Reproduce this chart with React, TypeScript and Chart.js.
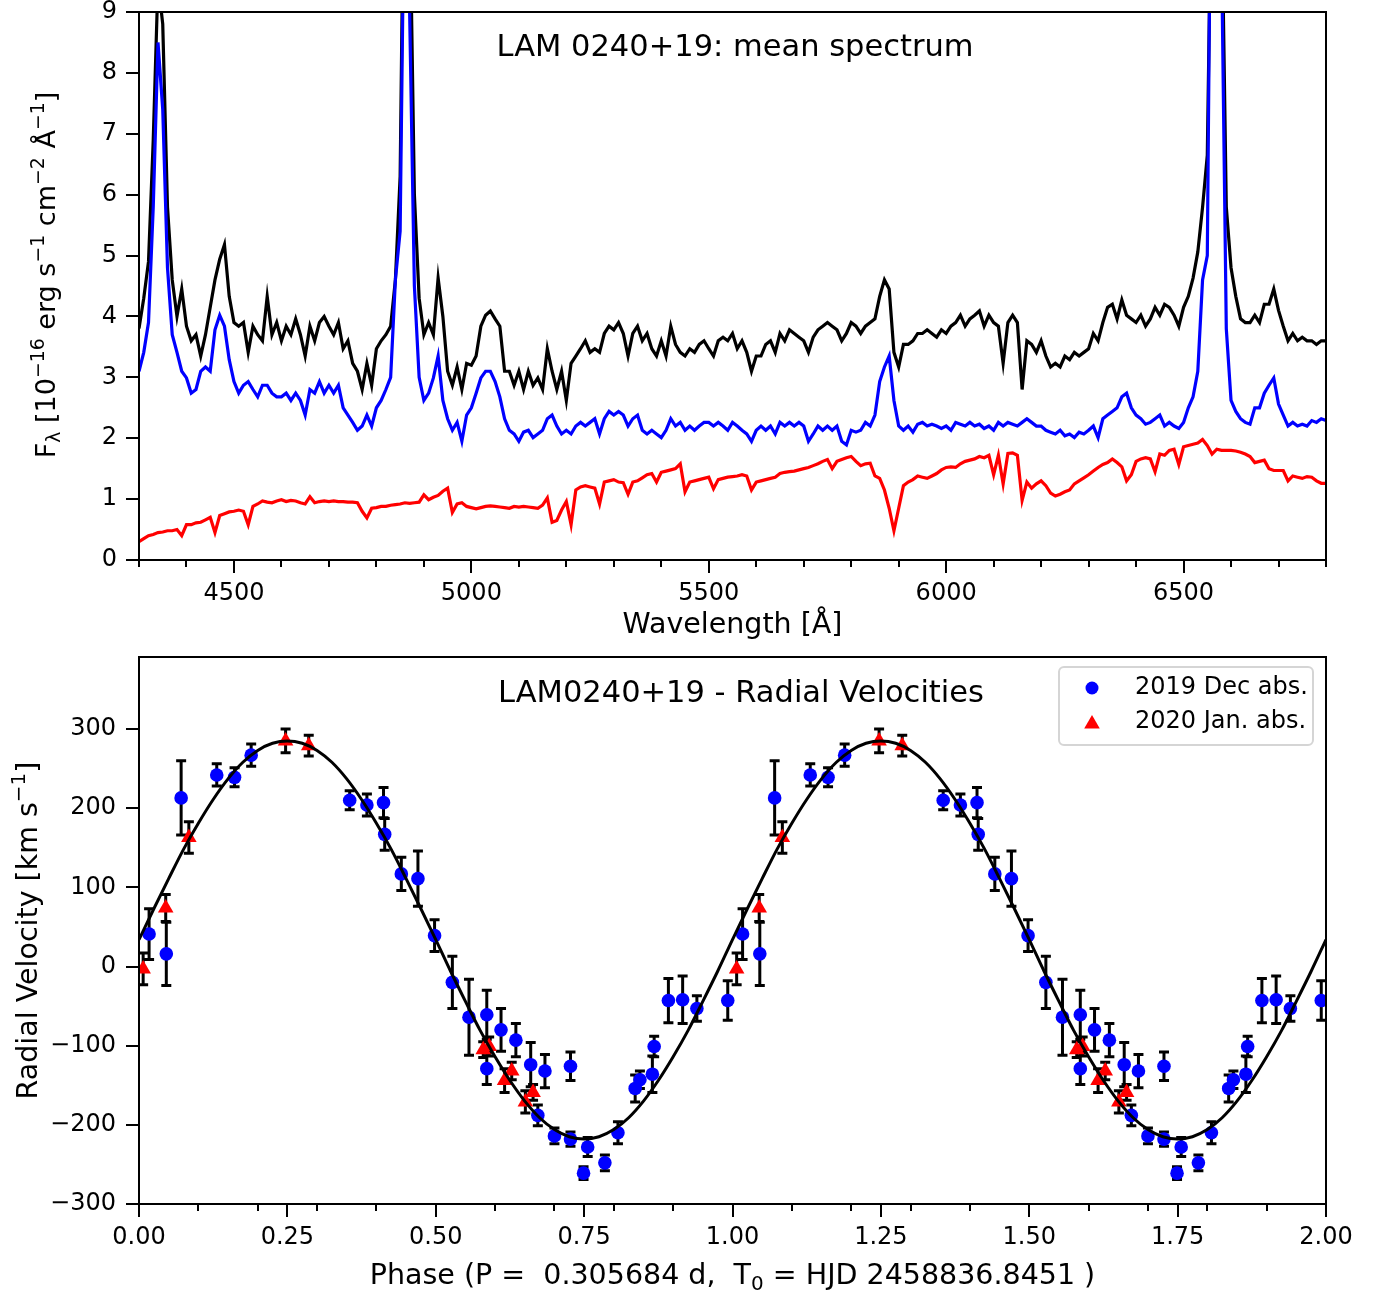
import React, { useEffect, useRef } from 'react';
import { Chart, registerables } from 'chart.js';

Chart.register(...registerables);

const FONT = '"DejaVu Sans", sans-serif';
Chart.defaults.font.family = FONT;
Chart.defaults.color = '#000';

// ---------------- Spectrum (F_lambda in 1e-16 erg s^-1 cm^-2 Å^-1), sampled every 10 Å from 4300 Å ----------------
const WL_START = 4300;
const WL_STEP = 10;

const FLUX_TOTAL = [
  3.8, 4.3, 4.9, 6.9, 9.5, 8.8, 5.8, 4.6, 4.0, 4.45,
  3.84, 3.6, 3.7, 3.35, 3.7, 4.15, 4.6, 4.94, 5.18, 4.33,
  3.9, 3.84, 3.9, 3.41, 3.84, 3.7, 3.6, 4.33, 3.7, 3.9,
  3.6, 3.84, 3.7, 3.96, 3.7, 3.35, 3.84, 3.6, 3.9, 4.0,
  3.84, 3.7, 3.9, 3.47, 3.6, 3.23, 3.1, 2.8, 3.23, 2.87,
  3.47, 3.6, 3.7, 3.84, 4.6, 6.3, 13, 11, 6.0, 4.3,
  3.7, 3.9, 3.7, 4.63, 4.0, 3.1, 2.87, 3.17, 2.8, 3.23,
  3.2, 3.35, 3.84, 4.02, 4.09, 3.96, 3.84, 3.1, 3.1, 2.87,
  3.1, 2.8, 3.1, 2.87, 2.99, 2.8, 3.47, 3.1, 2.8, 3.1,
  2.62, 3.23, 3.35, 3.47, 3.6, 3.41, 3.47, 3.41, 3.72, 3.84,
  3.78, 3.9, 3.72, 3.35, 3.72, 3.84, 3.6, 3.72, 3.47, 3.35,
  3.6, 3.35, 3.84, 3.54, 3.41, 3.35, 3.47, 3.41, 3.54, 3.6,
  3.47, 3.35, 3.6, 3.66, 3.6, 3.72, 3.47, 3.6, 3.41, 3.1,
  3.35, 3.35, 3.54, 3.6, 3.41, 3.72, 3.6, 3.78, 3.72, 3.66,
  3.6, 3.41, 3.66, 3.78, 3.84, 3.9, 3.84, 3.78, 3.6, 3.72,
  3.9, 3.84, 3.72, 3.84, 3.9, 3.96, 4.33, 4.6, 4.45, 3.41,
  3.17, 3.54, 3.54, 3.6, 3.72, 3.72, 3.78, 3.72, 3.66, 3.78,
  3.72, 3.84, 3.9, 4.02, 3.84, 3.96, 4.02, 4.09, 3.84, 4.02,
  3.9, 3.84, 3.23, 3.9, 4.02, 3.9, 2.8, 3.6, 3.54, 3.41,
  3.6, 3.35, 3.17, 3.23, 3.17, 3.35, 3.29, 3.41, 3.35, 3.41,
  3.47, 3.72, 3.6, 3.9, 4.15, 4.2, 3.96, 4.27, 4.02, 3.96,
  3.9, 4.02, 3.84, 3.96, 4.15, 4.02, 4.2, 4.15, 4.02, 3.84,
  4.15, 4.33, 4.63, 5.06, 5.79, 6.65, 12, 12, 11, 5.8,
  4.8, 4.33, 3.96, 3.9, 3.9, 4.02, 3.9, 4.2, 4.2, 4.45,
  4.1, 3.84, 3.6, 3.72, 3.6, 3.66, 3.6, 3.6, 3.54, 3.6,
  3.6,
];

const FLUX_BLUE = [
  3.1, 3.41, 3.9, 5.8, 8.5, 7.4, 4.8, 3.7, 3.41, 3.1,
  2.99, 2.74, 2.8, 3.1, 3.17, 3.1, 3.78, 4.02, 3.84, 3.29,
  2.93, 2.74, 2.87, 2.93, 2.8, 2.68, 2.87, 2.87, 2.74, 2.68,
  2.68, 2.74, 2.62, 2.74, 2.62, 2.38, 2.8, 2.74, 2.93, 2.74,
  2.87, 2.74, 2.87, 2.5, 2.38, 2.26, 2.13, 2.2, 2.38, 2.2,
  2.5, 2.62, 2.8, 3.0, 4.6, 5.4, 12, 9.0, 4.5, 3.0,
  2.62, 2.74, 2.99, 3.35, 2.62, 2.32, 2.13, 2.26, 1.95, 2.38,
  2.5, 2.74, 2.99, 3.1, 3.1, 2.93, 2.68, 2.32, 2.13, 2.07,
  1.95, 2.1, 2.13, 2.01, 2.07, 2.13, 2.32, 2.38, 2.2, 2.07,
  2.13, 2.07, 2.2, 2.26, 2.2, 2.26, 2.32, 2.07, 2.32, 2.44,
  2.38, 2.44, 2.38, 2.2, 2.32, 2.38, 2.13, 2.07, 2.13, 2.07,
  2.01, 2.13, 2.32, 2.2, 2.26, 2.13, 2.2, 2.13, 2.2, 2.26,
  2.26, 2.2, 2.26, 2.2, 2.13, 2.26, 2.2, 2.13, 2.07, 1.95,
  2.13, 2.2, 2.13, 2.2, 2.07, 2.26, 2.2, 2.26, 2.2, 2.26,
  2.2, 1.95, 2.07, 2.2, 2.13, 2.2, 2.13, 2.2, 1.95, 1.89,
  2.13, 2.1, 2.13, 2.26, 2.2, 2.38, 2.93, 3.17, 3.35, 2.62,
  2.2, 2.13, 2.2, 2.1, 2.23, 2.26, 2.2, 2.23, 2.2, 2.16,
  2.2, 2.13, 2.26, 2.23, 2.2, 2.26, 2.2, 2.23, 2.16, 2.2,
  2.13, 2.26, 2.2, 2.26, 2.23, 2.2, 2.26, 2.32, 2.26, 2.2,
  2.2, 2.13, 2.1, 2.07, 2.13, 2.04, 2.07, 2.01, 2.1, 2.07,
  2.13, 2.2, 2.01, 2.32, 2.38, 2.44, 2.5, 2.68, 2.74, 2.5,
  2.38, 2.32, 2.23, 2.26, 2.32, 2.38, 2.2, 2.26, 2.2, 2.16,
  2.26, 2.5, 2.68, 3.1, 4.6, 5.0, 14, 14, 10, 3.8,
  2.62, 2.44, 2.32, 2.26, 2.23, 2.5, 2.5, 2.74, 2.87, 2.99,
  2.56, 2.38, 2.2, 2.26, 2.2, 2.23, 2.2, 2.29, 2.26, 2.32,
  2.29,
];

const FLUX_RED = [
  0.30, 0.35, 0.40, 0.42, 0.45, 0.46, 0.48, 0.48, 0.50, 0.40,
  0.58, 0.58, 0.61, 0.62, 0.66, 0.70, 0.45, 0.73, 0.76, 0.79,
  0.80, 0.82, 0.80, 0.58, 0.88, 0.92, 0.97, 0.95, 0.94, 0.97,
  0.99, 0.96, 0.98, 0.97, 0.94, 0.92, 1.04, 0.94, 0.96, 0.97,
  0.96, 0.97, 0.96, 0.96, 0.95, 0.95, 0.94, 0.80, 0.69, 0.85,
  0.86, 0.88, 0.88, 0.90, 0.91, 0.92, 0.94, 0.93, 0.94, 0.95,
  1.07, 0.99, 1.03, 1.06, 1.13, 1.18, 0.78, 0.92, 0.94, 0.88,
  0.86, 0.84, 0.86, 0.88, 0.89, 0.88, 0.87, 0.86, 0.85, 0.88,
  0.87, 0.88, 0.87, 0.86, 0.85, 0.90, 1.02, 0.62, 0.65, 0.82,
  0.96, 0.58, 1.15, 1.20, 1.22, 1.20, 1.18, 0.92, 1.28, 1.30,
  1.32, 1.28, 1.27, 1.08, 1.28, 1.30, 1.35, 1.40, 1.42, 1.28,
  1.44, 1.46, 1.48, 1.50, 1.58, 1.12, 1.28, 1.30, 1.32, 1.34,
  1.36, 1.17, 1.32, 1.34, 1.36, 1.37, 1.38, 1.40, 1.38, 1.15,
  1.28, 1.30, 1.32, 1.34, 1.36, 1.42, 1.44, 1.45, 1.46, 1.48,
  1.50, 1.52, 1.55, 1.58, 1.62, 1.65, 1.50, 1.62, 1.65, 1.68,
  1.70, 1.62, 1.55, 1.58, 1.59, 1.38, 1.34, 1.15, 0.85, 0.48,
  0.85, 1.22, 1.28, 1.32, 1.38, 1.36, 1.34, 1.38, 1.42, 1.48,
  1.52, 1.53, 1.52, 1.58, 1.62, 1.64, 1.66, 1.70, 1.68, 1.72,
  1.40, 1.72, 1.25, 1.75, 1.76, 1.72, 0.98, 1.28, 1.18, 1.25,
  1.30, 1.22, 1.10, 1.05, 1.08, 1.12, 1.15, 1.25, 1.30, 1.35,
  1.40, 1.46, 1.52, 1.57, 1.60, 1.66, 1.60, 1.53, 1.30, 1.40,
  1.62, 1.66, 1.68, 1.66, 1.45, 1.74, 1.72, 1.80, 1.82, 1.57,
  1.86, 1.88, 1.90, 1.92, 1.98, 1.88, 1.74, 1.82, 1.80, 1.80,
  1.80, 1.79, 1.77, 1.74, 1.70, 1.60, 1.62, 1.64, 1.50, 1.47,
  1.47, 1.47, 1.30, 1.38, 1.36, 1.34, 1.37, 1.36, 1.30, 1.26,
  1.26,
];

const WAVELENGTH = FLUX_TOTAL.map((_, i) => WL_START + WL_STEP * i);
const WL_MAJOR_TICKS = [4500, 5000, 5500, 6000, 6500];
const FLUX_TICKS = [0, 1, 2, 3, 4, 5, 6, 7, 8, 9];

// ---------------- Radial velocities ----------------
const DEC_PHASE = [0.017, 0.046, 0.071, 0.131, 0.161, 0.189, 0.355, 0.384, 0.412, 0.414, 0.442, 0.470, 0.498, 0.528, 0.556, 0.586, 0.586, 0.610, 0.635, 0.660, 0.672, 0.684, 0.700, 0.727, 0.727, 0.749, 0.756, 0.785, 0.807, 0.836, 0.844, 0.865, 0.868, 0.892, 0.916, 0.940, 0.992];
const DEC_RV = [41, 16, 213, 242, 239, 267, 210, 204, 207, 167, 117, 111, 39, -20, -64, -61, -129, -80, -93, -124, -188, -132, -214, -126, -218, -261, -228, -248, -210, -154, -143, -136, -101, -43, -42, -53, -43];
const DEC_ERR = [32, 40, 47, 14, 12, 14, 12, 14, 19, 20, 21, 35, 20, 33, 48, 31, 20, 27, 21, 28, 13, 21, 10, 18, 9, 8, 12, 10, 14, 17, 11, 23, 13, 28, 30, 16, 25];

const JAN_PHASE = [0.007, 0.045, 0.084, 0.247, 0.286, 0.580, 0.590, 0.616, 0.628, 0.651, 0.664];
const JAN_RV = [-3, 74, 163, 285, 279, -105, -101, -144, -132, -171, -159];
const JAN_ERR = [20, 17, 20, 15, 13, 10, 12, 15, 11, 14, 10];

// fitted curve, read every 0.025 in phase over one cycle
const FIT_STEP = 0.025;
const FIT_RV = [34, 73, 111, 148, 181, 211, 237, 258, 273, 282, 285, 282, 273, 258, 237, 211, 181, 148, 111, 73, 34, -6, -44, -81, -114, -144, -170, -191, -206, -215, -218, -215, -206, -191, -170, -144, -114, -81, -44, -6, 34];

const PHASE_MAJOR_TICKS = [0, 0.25, 0.5, 0.75, 1, 1.25, 1.5, 1.75, 2];
const RV_TICKS = [-300, -200, -100, 0, 100, 200, 300];
const CYCLES = [0, 1];

type Seg = { t: string; m?: 'sub' | 'sup' };

function richWidth(ctx: CanvasRenderingContext2D, segs: Seg[], size: number) {
  let w = 0;
  for (const s of segs) {
    ctx.font = `${s.m ? size * 0.7 : size}px ${FONT}`;
    w += ctx.measureText(s.t).width;
  }
  return w;
}

function drawRich(ctx: CanvasRenderingContext2D, segs: Seg[], x: number, y: number, size: number, vertical = false) {
  ctx.save();
  ctx.translate(x, y);
  if (vertical) ctx.rotate(-Math.PI / 2);
  const w = richWidth(ctx, segs, size);
  let cx = -w / 2;
  ctx.fillStyle = '#000';
  ctx.textAlign = 'left';
  ctx.textBaseline = 'alphabetic';
  for (const s of segs) {
    const fs = s.m ? size * 0.7 : size;
    ctx.font = `${fs}px ${FONT}`;
    const dy = s.m === 'sup' ? -size * 0.42 : s.m === 'sub' ? size * 0.2 : 0;
    ctx.fillText(s.t, cx, dy);
    cx += ctx.measureText(s.t).width;
  }
  ctx.restore();
}

function drawFrameAndTicks(chart: any, xMajor: number[], xMinor: number[], yMajor: number[]) {
  const { ctx, chartArea: a, scales } = chart;
  const xs = scales.x;
  const ys = scales.y;
  ctx.save();
  ctx.strokeStyle = '#000';
  ctx.lineWidth = 2;
  ctx.strokeRect(a.left, a.top, a.right - a.left, a.bottom - a.top);
  ctx.beginPath();
  for (const v of xMajor) {
    const p = Math.round(xs.getPixelForValue(v));
    ctx.moveTo(p, a.bottom);
    ctx.lineTo(p, a.bottom + 13);
  }
  for (const v of xMinor) {
    const p = Math.round(xs.getPixelForValue(v));
    ctx.moveTo(p, a.bottom);
    ctx.lineTo(p, a.bottom + 7);
  }
  for (const v of yMajor) {
    const p = Math.round(ys.getPixelForValue(v));
    ctx.moveTo(a.left, p);
    ctx.lineTo(a.left - 13, p);
  }
  ctx.stroke();
  ctx.restore();
}

const tickFont = { family: FONT, size: 24 };
const fitY = (s: any) => { s.width = 139; s.paddingTop = 0; s.paddingBottom = 0; };

export default function App() {
  const topRef = useRef<HTMLCanvasElement>(null);
  const botRef = useRef<HTMLCanvasElement>(null);

  useEffect(() => {
    // -------- top: spectrum --------
    const wlMinor: number[] = [];
    for (let w = 4300; w <= 6800; w += 100) if (!WL_MAJOR_TICKS.includes(w)) wlMinor.push(w);

    const topDecor = {
      id: 'topDecor',
      afterDraw(chart: any) {
        drawFrameAndTicks(chart, WL_MAJOR_TICKS, wlMinor, FLUX_TICKS);
        const ctx = chart.ctx;
        const a = chart.chartArea;
        drawRich(ctx, [{ t: 'LAM 0240+19: mean spectrum' }], 735, 56, 30.5);
        drawRich(ctx, [{ t: 'Wavelength [Å]' }], (a.left + a.right) / 2, 633, 28.5);
        drawRich(
          ctx,
          [
            { t: 'F' }, { t: 'λ', m: 'sub' }, { t: ' [10' }, { t: '−16', m: 'sup' }, { t: ' erg s' }, { t: '−1', m: 'sup' },
            { t: ' cm' }, { t: '−2', m: 'sup' }, { t: ' Å' }, { t: '−1', m: 'sup' }, { t: ']' },
          ],
          55, 275, 27, true,
        );
      },
    };

    const mk = (vals: number[]) => WAVELENGTH.map((x, i) => ({ x, y: vals[i] }));

    const top = new Chart(topRef.current as HTMLCanvasElement, {
      type: 'line',
      data: {
        datasets: [
          { label: 'mean', data: mk(FLUX_TOTAL), borderColor: '#000000', borderWidth: 3.2, pointRadius: 0, tension: 0, order: 3, clip: 0 },
          { label: 'disc', data: mk(FLUX_BLUE), borderColor: '#0000ff', borderWidth: 3.2, pointRadius: 0, tension: 0, order: 2, clip: 0 },
          { label: 'star', data: mk(FLUX_RED), borderColor: '#ff0000', borderWidth: 3.2, pointRadius: 0, tension: 0, order: 1, clip: 0 },
        ],
      },
      options: {
        animation: false,
        responsive: false,
        events: [],
        layout: { padding: { left: 0, right: 49, top: 12, bottom: 0 }, autoPadding: false },
        plugins: { legend: { display: false }, tooltip: { enabled: false } },
        scales: {
          x: {
            type: 'linear',
            min: 4300,
            max: 6800,
            afterBuildTicks: (s: any) => { s.ticks = WL_MAJOR_TICKS.map((v) => ({ value: v })); },
            afterFit: (s: any) => { s.height = 85; s.paddingLeft = 0; s.paddingRight = 0; },
            grid: { display: false, drawTicks: true, tickLength: 13 },
            border: { display: false },
            ticks: { font: tickFont, color: '#000', padding: 6, maxRotation: 0, autoSkip: false, callback: (v: any) => String(v) },
          },
          y: {
            type: 'linear',
            min: 0,
            max: 9,
            afterBuildTicks: (s: any) => { s.ticks = FLUX_TICKS.map((v) => ({ value: v })); },
            afterFit: fitY,
            grid: { display: false, drawTicks: true, tickLength: 13 },
            border: { display: false },
            ticks: { font: tickFont, color: '#000', padding: 9, autoSkip: false, callback: (v: any) => String(v) },
          },
        },
      },
      plugins: [topDecor],
    } as any);

    // -------- bottom: radial velocities --------
    const phMinor: number[] = [];
    for (let k = 1; k < 20; k++) if (k % 5 !== 0) phMinor.push(k / 10);

    const decPts = CYCLES.flatMap((c) => DEC_PHASE.map((p, i) => ({ x: p + c, y: DEC_RV[i], e: DEC_ERR[i] })));
    const janPts = CYCLES.flatMap((c) => JAN_PHASE.map((p, i) => ({ x: p + c, y: JAN_RV[i], e: JAN_ERR[i] })));
    const fitPts = CYCLES.flatMap((c) =>
      FIT_RV.map((v, i) => ({ x: i * FIT_STEP + c, y: v })).filter((pt, i) => c === 0 || i > 0),
    );

    const botDecor = {
      id: 'botDecor',
      beforeDatasetsDraw(chart: any) {
        const { ctx, chartArea: a, scales } = chart;
        const xs = scales.x;
        const ys = scales.y;
        ctx.save();
        ctx.beginPath();
        ctx.rect(a.left, a.top, a.right - a.left, a.bottom - a.top);
        ctx.clip();
        ctx.strokeStyle = '#000';
        ctx.lineWidth = 3;
        ctx.beginPath();
        for (const pt of [...decPts, ...janPts]) {
          const x = xs.getPixelForValue(pt.x);
          const y1 = ys.getPixelForValue(pt.y - pt.e);
          const y2 = ys.getPixelForValue(pt.y + pt.e);
          ctx.moveTo(x, y1);
          ctx.lineTo(x, y2);
          ctx.moveTo(x - 5, y1);
          ctx.lineTo(x + 5, y1);
          ctx.moveTo(x - 5, y2);
          ctx.lineTo(x + 5, y2);
        }
        ctx.stroke();
        ctx.restore();
      },
      afterDraw(chart: any) {
        drawFrameAndTicks(chart, PHASE_MAJOR_TICKS, phMinor, RV_TICKS);
        const ctx = chart.ctx;
        const a = chart.chartArea;
        drawRich(ctx, [{ t: 'LAM0240+19 - Radial Velocities' }], 741, 57, 30.5);
        drawRich(
          ctx,
          [{ t: 'Phase (P =  0.305684 d,  T' }, { t: '0', m: 'sub' }, { t: ' = HJD 2458836.8451 )' }],
          (a.left + a.right) / 2, 639, 28.5,
        );
        drawRich(ctx, [{ t: 'Radial Velocity [km s' }, { t: '−1', m: 'sup' }, { t: ']' }], 37, (a.top + a.bottom) / 2, 28.5, true);

        // legend
        ctx.save();
        const lx = 1059, ly = 22, lw = 254, lh = 78, r = 5;
        ctx.beginPath();
        ctx.moveTo(lx + r, ly);
        ctx.lineTo(lx + lw - r, ly);
        ctx.arcTo(lx + lw, ly, lx + lw, ly + r, r);
        ctx.lineTo(lx + lw, ly + lh - r);
        ctx.arcTo(lx + lw, ly + lh, lx + lw - r, ly + lh, r);
        ctx.lineTo(lx + r, ly + lh);
        ctx.arcTo(lx, ly + lh, lx, ly + lh - r, r);
        ctx.lineTo(lx, ly + r);
        ctx.arcTo(lx, ly, lx + r, ly, r);
        ctx.closePath();
        ctx.fillStyle = 'rgba(255,255,255,0.8)';
        ctx.fill();
        ctx.strokeStyle = '#d5d5d5';
        ctx.lineWidth = 2;
        ctx.stroke();

        ctx.fillStyle = '#0000ff';
        ctx.beginPath();
        ctx.arc(1092, 43, 6.5, 0, Math.PI * 2);
        ctx.fill();
        ctx.fillStyle = '#ff0000';
        ctx.beginPath();
        const tr = 9;
        for (let k = 0; k < 3; k++) {
          const ang = (k * 2 * Math.PI) / 3;
          const px = 1092 + Math.sin(ang) * tr;
          const py = 79 - Math.cos(ang) * tr;
          if (k === 0) ctx.moveTo(px, py); else ctx.lineTo(px, py);
        }
        ctx.closePath();
        ctx.fill();

        ctx.fillStyle = '#000';
        ctx.font = `24px ${FONT}`;
        ctx.textAlign = 'left';
        ctx.textBaseline = 'middle';
        ctx.fillText('2019 Dec abs.', 1135, 43);
        ctx.fillText('2020 Jan. abs.', 1135, 77);
        ctx.restore();
      },
    };

    const bot = new Chart(botRef.current as HTMLCanvasElement, {
      type: 'scatter',
      data: {
        datasets: [
          { label: 'fit', data: fitPts, showLine: true, borderColor: '#000', borderWidth: 3, pointRadius: 0, cubicInterpolationMode: 'monotone', order: 0, clip: 0 },
          { label: '2019 Dec abs.', data: decPts, pointStyle: 'circle', pointRadius: 6.8, backgroundColor: '#0000ff', borderWidth: 0, order: 2, clip: 0 },
          { label: '2020 Jan. abs.', data: janPts, pointStyle: 'triangle', pointRadius: 9, backgroundColor: '#ff0000', borderWidth: 0, order: 1, clip: 0 },
        ],
      },
      options: {
        animation: false,
        responsive: false,
        events: [],
        layout: { padding: { left: 0, right: 49, top: 12, bottom: 0 }, autoPadding: false },
        plugins: { legend: { display: false }, tooltip: { enabled: false } },
        scales: {
          x: {
            type: 'linear',
            min: 0,
            max: 2,
            afterBuildTicks: (s: any) => { s.ticks = PHASE_MAJOR_TICKS.map((v) => ({ value: v })); },
            afterFit: (s: any) => { s.height = 89; s.paddingLeft = 0; s.paddingRight = 0; },
            grid: { display: false, drawTicks: true, tickLength: 13 },
            border: { display: false },
            ticks: { font: tickFont, color: '#000', padding: 6, maxRotation: 0, autoSkip: false, callback: (v: any) => Number(v).toFixed(2) },
          },
          y: {
            type: 'linear',
            min: -300,
            max: 391,
            afterBuildTicks: (s: any) => { s.ticks = RV_TICKS.map((v) => ({ value: v })); },
            afterFit: fitY,
            grid: { display: false, drawTicks: true, tickLength: 13 },
            border: { display: false },
            ticks: {
              font: tickFont, color: '#000', padding: 10, autoSkip: false,
              callback: (v: any) => (Number(v) < 0 ? '−' + Math.abs(Number(v)) : String(v)),
            },
          },
        },
      },
      plugins: [botDecor],
    } as any);

    return () => {
      top.destroy();
      bot.destroy();
    };
  }, []);

  return (
    <div style={{ position: 'absolute', left: 0, top: 0, width: 1375, height: 1293, background: '#ffffff' }}>
      <canvas ref={topRef} width={1375} height={645} style={{ position: 'absolute', left: 0, top: 0, width: 1375, height: 645 }} />
      <canvas ref={botRef} width={1375} height={648} style={{ position: 'absolute', left: 0, top: 645, width: 1375, height: 648 }} />
    </div>
  );
}
